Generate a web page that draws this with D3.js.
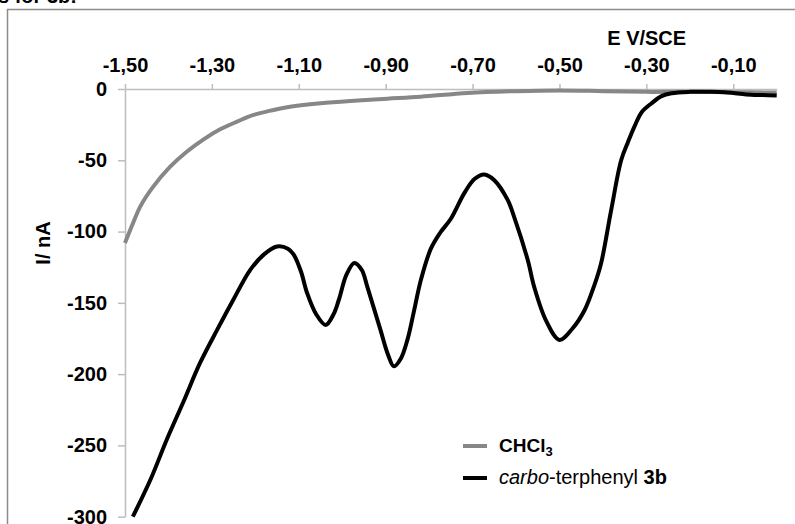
<!DOCTYPE html>
<html><head><meta charset="utf-8">
<script src="https://cdn.jsdelivr.net/npm/d3@7/dist/d3.min.js"></script>
<style>body{margin:0;background:#fff;}svg{display:block;font-family:"Liberation Sans",Arial,sans-serif;}</style>
</head><body>
<svg id="chart" width="795" height="524"></svg>
<script>
const xTicks = [-1.5, -1.3, -1.1, -0.9, -0.7, -0.5, -0.3, -0.1];
const yTicks = [0, -50, -100, -150, -200, -250, -300];
const seriesNames = ["CHCl3", "carbo-terphenyl 3b"];
const chcl3 = [
  [-1.5,-108],[-1.48,-93],[-1.465,-82.5],[-1.435,-68.5],[-1.396,-54.5],[-1.358,-44],
  [-1.319,-35.3],[-1.281,-28.3],[-1.242,-22.9],[-1.204,-18.2],[-1.165,-15.2],[-1.127,-12.8],
  [-1.05,-10],[-0.973,-8.2],[-0.896,-6.8],[-0.819,-5.4],[-0.711,-2.8],[-0.6,-1.5],
  [-0.5,-1.0],[-0.4,-1.5],[-0.3,-2],[-0.2,-2],[-0.1,-2.2],[0,-2.5]
];
const terphenyl = [
  [-1.482,-300],[-1.44,-273],[-1.404,-246],[-1.365,-219],[-1.327,-192],[-1.288,-169],
  [-1.251,-148],[-1.212,-127],[-1.18,-116],[-1.15,-110.5],[-1.125,-112],[-1.112,-116],
  [-1.095,-128],[-1.081,-143],[-1.06,-158],[-1.038,-165.5],[-1.02,-158],[-1.008,-148],
  [-0.99,-130],[-0.972,-122],[-0.955,-127],[-0.942,-139],[-0.912,-169],[-0.895,-186],
  [-0.881,-194.5],[-0.865,-189],[-0.85,-176],[-0.835,-156],[-0.819,-134],[-0.796,-112],
  [-0.775,-101],[-0.75,-91],[-0.719,-73],[-0.695,-63],[-0.673,-60],[-0.65,-64],
  [-0.619,-78],[-0.604,-90],[-0.573,-120],[-0.558,-139],[-0.53,-163],[-0.5,-176],
  [-0.47,-168],[-0.442,-155],[-0.419,-137],[-0.404,-122],[-0.381,-85],[-0.358,-50],
  [-0.342,-37],[-0.327,-26],[-0.31,-16],[-0.288,-10],[-0.265,-5],[-0.242,-3],
  [-0.2,-2],[-0.15,-1.9],[-0.12,-2.2],[-0.096,-3],[-0.07,-3.8],[-0.05,-4.2],[-0.02,-4.3],[0,-4.5]
];

const svg = d3.select("#chart");
const x = d3.scaleLinear().domain([-1.5, 0]).range([125, 776.7]);
const y = d3.scaleLinear().domain([0, -300]).range([89, 516.7]);

// cropped caption text at top
svg.append("text").attr("x", -2).attr("y", 3).attr("font-size", 20).attr("font-weight", "bold").text("s for 3b:");

// outer frame
svg.append("rect").attr("x", 7.5).attr("y", 9.5).attr("width", 800).attr("height", 530)
  .attr("fill", "none").attr("stroke", "#8c8c8c").attr("stroke-width", 1.5);

const fmtX = d => d3.format(".2f")(d).replace("\u2212", "-").replace(".", ",");
const xAxis = svg.append("g").attr("transform", `translate(0,${y(0)})`)
  .call(d3.axisTop(x).tickValues(xTicks).tickSize(5).tickSizeOuter(0).tickPadding(12).tickFormat(fmtX));
const yAxis = svg.append("g").attr("transform", `translate(${x(-1.5)},0)`)
  .call(d3.axisLeft(y).tickValues(yTicks).tickSize(7).tickSizeOuter(0).tickPadding(11).tickFormat(d => String(d)));
[xAxis, yAxis].forEach(g => {
  g.selectAll("path,line").attr("stroke", "#bdbdbd").attr("stroke-width", 1.5);
  g.selectAll("text").attr("fill", "#000").attr("font-size", 20).attr("font-weight", "bold")
    .attr("font-family", "'Liberation Sans', Arial, sans-serif");
});

svg.append("text").attr("x", 646.7).attr("y", 45).attr("text-anchor", "middle")
  .attr("font-size", 20).attr("font-weight", "bold").text("E V/SCE");
svg.append("text").attr("transform", "translate(50,243) rotate(-90)").attr("text-anchor", "middle")
  .attr("font-size", 20).attr("font-weight", "bold").text("I/ nA");

const line = d3.line().x(d => x(d[0])).y(d => y(d[1])).curve(d3.curveCatmullRom.alpha(0.5));
svg.append("path").datum(chcl3).attr("d", line).attr("fill", "none")
  .attr("stroke", "#878787").attr("stroke-width", 4).attr("stroke-linejoin", "round");
svg.append("path").datum(terphenyl).attr("d", line).attr("fill", "none")
  .attr("stroke", "#000").attr("stroke-width", 4).attr("stroke-linejoin", "round");

// legend
const leg = svg.append("g");
leg.append("line").attr("x1", 463).attr("x2", 487).attr("y1", 446).attr("y2", 446)
  .attr("stroke", "#878787").attr("stroke-width", 4);
leg.append("line").attr("x1", 463).attr("x2", 487).attr("y1", 478).attr("y2", 478)
  .attr("stroke", "#000").attr("stroke-width", 4);
const t1 = leg.append("text").attr("x", 499).attr("y", 452).attr("font-size", 19).attr("font-weight", "bold");
t1.append("tspan").text("CHCl");
t1.append("tspan").attr("font-size", 13).attr("dy", 4).text("3");
const t2 = leg.append("text").attr("x", 499).attr("y", 484).attr("font-size", 20);
t2.append("tspan").attr("font-style", "italic").text("carbo");
t2.append("tspan").text("-terphenyl ");
t2.append("tspan").attr("font-weight", "bold").text("3b");
</script>
</body></html>
